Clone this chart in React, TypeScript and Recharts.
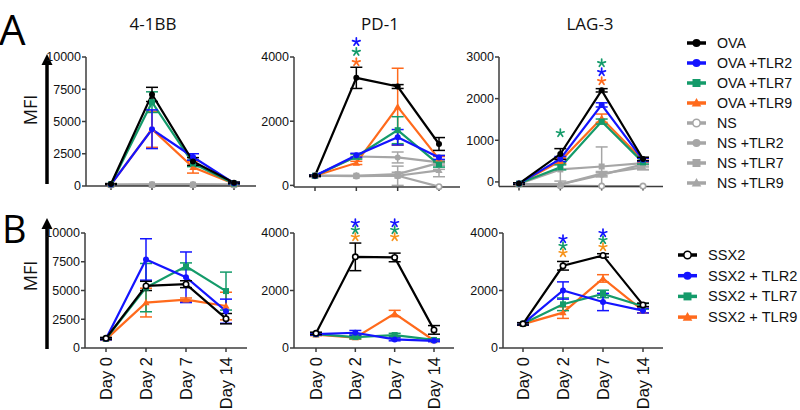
import React from "react";
import { LineChart, Line, XAxis, YAxis, ErrorBar, ReferenceDot } from "recharts";

const BLACK = "#000000";
const BLUE = "#1414FF";
const GREEN = "#149B6A";
const ORANGE = "#FF6A1C";
const ORANGE_B = "#F7941D";
const GREY = "#A6A6A6";
const AXIS = "#3C3C3C";

const days = ["Day 0", "Day 2", "Day 7", "Day 14"];

// ---- Row A series ----
const seriesAKeys = ["OVA", "OVA_TLR2", "OVA_TLR7", "OVA_TLR9", "NS", "NS_TLR2", "NS_TLR7", "NS_TLR9"];
const seriesANames = ["OVA", "OVA +TLR2", "OVA +TLR7", "OVA +TLR9", "NS", "NS +TLR2", "NS +TLR7", "NS +TLR9"];
const seriesAColors = [BLACK, BLUE, GREEN, ORANGE, GREY, GREY, GREY, GREY];
const seriesAMarkers = ["circle", "circle", "square", "triangle", "open", "circle", "square", "triangle"];
const seriesAOrder = [4, 5, 6, 7, 3, 2, 1, 0];

// ---- Row B series ----
const seriesBKeys = ["SSX2", "SSX2_TLR2", "SSX2_TLR7", "SSX2_TLR9"];
const seriesBNames = ["SSX2", "SSX2 + TLR2", "SSX2 + TLR7", "SSX2 + TLR9"];
const seriesBColors = [BLACK, BLUE, GREEN, ORANGE];
const seriesBMarkers = ["open", "circle", "square", "triangle"];
const seriesBOrder = [3, 2, 1, 0];

// ---- Panel A1: 4-1BB ----
const bbOVA = [150, 7100, 1900, 250];
const bbOVAerr = [40, 550, 300, 60];
const bbTLR2 = [120, 4400, 2250, 220];
const bbTLR2err = [30, 1500, 250, 50];
const bbTLR7 = [130, 6500, 1750, 180];
const bbTLR7err = [30, 800, 250, 40];
const bbTLR9 = [120, 4400, 1450, 170];
const bbTLR9err = [30, 1400, 450, 40];
const bbNS = [80, 90, 90, 80];
const bbNSerr = [0, 0, 0, 0];
const bbNS2 = [90, 100, 100, 90];
const bbNS2err = [0, 0, 0, 0];
const bbNS7 = [90, 110, 100, 90];
const bbNS7err = [0, 0, 0, 0];
const bbNS9 = [90, 100, 110, 90];
const bbNS9err = [0, 0, 0, 0];

// ---- Panel A2: PD-1 ----
const pdOVA = [300, 3350, 3080, 1290];
const pdOVAerr = [20, 330, 60, 200];
const pdTLR2 = [300, 940, 1500, 870];
const pdTLR2err = [20, 60, 240, 60];
const pdTLR7 = [300, 900, 1720, 650];
const pdTLR7err = [20, 80, 420, 80];
const pdTLR9 = [300, 700, 2450, 820];
const pdTLR9err = [20, 50, 1200, 80];
const pdNS = [300, 290, 300, -40];
const pdNSerr = [0, 0, 0, 0];
const pdNS2 = [300, 900, 870, 720];
const pdNS2err = [0, 60, 170, 220];
const pdNS7 = [300, 300, 350, 700];
const pdNS7err = [0, 0, 60, 80];
const pdNS9 = [300, 300, 300, 470];
const pdNS9err = [0, 0, 300, 200];

// ---- Panel A3: LAG-3 ----
const lgOVA = [-40, 670, 2200, 550];
const lgOVAerr = [20, 130, 40, 40];
const lgTLR2 = [-40, 550, 1850, 530];
const lgTLR2err = [20, 60, 50, 40];
const lgTLR7 = [-40, 350, 1450, 470];
const lgTLR7err = [20, 60, 60, 40];
const lgTLR9 = [-40, 500, 1530, 520];
const lgTLR9err = [20, 60, 100, 40];
const lgNS = [-60, -90, -100, -100];
const lgNSerr = [0, 0, 0, 0];
const lgNS2 = [-50, -60, 170, 420];
const lgNS2err = [0, 0, 50, 60];
const lgNS7 = [-50, 300, 370, 450];
const lgNS7err = [0, 280, 470, 150];
const lgNS9 = [-50, -60, 200, 350];
const lgNS9err = [0, 0, 50, 60];

// ---- Panel B1: 4-1BB ----
const b1SSX2 = [840, 5400, 5550, 2550];
const b1SSX2err = [80, 400, 300, 450];
const b1TLR2 = [800, 7700, 6150, 3200];
const b1TLR2err = [80, 1800, 2200, 1050];
const b1TLR7 = [800, 5250, 7100, 4950];
const b1TLR7err = [80, 2100, 300, 1650];
const b1TLR9 = [750, 3950, 4200, 3650];
const b1TLR9err = [80, 1250, 150, 1200];

// ---- Panel B2: PD-1 ----
const b2SSX2 = [510, 3170, 3150, 630];
const b2SSX2err = [40, 480, 150, 150];
const b2TLR2 = [480, 530, 300, 250];
const b2TLR2err = [30, 80, 50, 30];
const b2TLR7 = [480, 380, 450, 280];
const b2TLR7err = [30, 60, 60, 40];
const b2TLR9 = [460, 360, 1200, 260];
const b2TLR9err = [30, 50, 110, 30];

// ---- Panel B3: LAG-3 ----
const b3SSX2 = [840, 2860, 3220, 1500];
const b3SSX2err = [40, 150, 60, 60];
const b3TLR2 = [840, 2000, 1600, 1300];
const b3TLR2err = [40, 300, 300, 80];
const b3TLR7 = [840, 1520, 1880, 1450];
const b3TLR7err = [40, 220, 130, 100];
const b3TLR9 = [830, 1230, 2420, 1300];
const b3TLR9err = [40, 200, 130, 80];

// ---- Ticks ----
const ticks10k = [0, 2500, 5000, 7500, 10000];
const ticks4k = [0, 2000, 4000];
const ticks3k = [0, 1000, 2000, 3000];

// ---- Significance stars ----
const pdStarDay = ["Day 2", "Day 2", "Day 2"];
const pdStarY = [4470, 4160, 3840];
const pdStarColor = [BLUE, GREEN, ORANGE];
const lgStarDay = ["Day 7", "Day 7", "Day 7", "Day 2"];
const lgStarY = [2854, 2638, 2422, 1175];
const lgStarColor = [GREEN, BLUE, ORANGE, GREEN];
const b2StarDay = ["Day 2", "Day 2", "Day 2", "Day 7", "Day 7", "Day 7"];
const b2StarY = [4348, 4104, 3861, 4348, 4104, 3861];
const b2StarColor = [BLUE, GREEN, ORANGE_B, BLUE, GREEN, ORANGE_B];
const b3StarDay = ["Day 2", "Day 2", "Day 2", "Day 7", "Day 7", "Day 7"];
const b3StarY = [3791, 3548, 3304, 4000, 3757, 3513];
const b3StarColor = [BLUE, GREEN, ORANGE_B, BLUE, GREEN, ORANGE_B];

const SANS = "'Liberation Sans', Arial, sans-serif";

function buildRows(keys: string[], vals: number[][], errs: number[][]) {
  return days.map((d, i) => {
    const row: any = { day: d };
    keys.forEach((k, j) => {
      row[k] = vals[j][i];
      row[k + "_err"] = errs[j][i];
    });
    return row;
  });
}

function buildStars(ds: string[], ys: number[], cs: string[]) {
  return ds.map((d, i) => ({ day: d, y: ys[i], color: cs[i] }));
}

const rowsA1 = buildRows(
  seriesAKeys,
  [bbOVA, bbTLR2, bbTLR7, bbTLR9, bbNS, bbNS2, bbNS7, bbNS9],
  [bbOVAerr, bbTLR2err, bbTLR7err, bbTLR9err, bbNSerr, bbNS2err, bbNS7err, bbNS9err]
);
const rowsA2 = buildRows(
  seriesAKeys,
  [pdOVA, pdTLR2, pdTLR7, pdTLR9, pdNS, pdNS2, pdNS7, pdNS9],
  [pdOVAerr, pdTLR2err, pdTLR7err, pdTLR9err, pdNSerr, pdNS2err, pdNS7err, pdNS9err]
);
const rowsA3 = buildRows(
  seriesAKeys,
  [lgOVA, lgTLR2, lgTLR7, lgTLR9, lgNS, lgNS2, lgNS7, lgNS9],
  [lgOVAerr, lgTLR2err, lgTLR7err, lgTLR9err, lgNSerr, lgNS2err, lgNS7err, lgNS9err]
);
const rowsB1 = buildRows(seriesBKeys, [b1SSX2, b1TLR2, b1TLR7, b1TLR9], [b1SSX2err, b1TLR2err, b1TLR7err, b1TLR9err]);
const rowsB2 = buildRows(seriesBKeys, [b2SSX2, b2TLR2, b2TLR7, b2TLR9], [b2SSX2err, b2TLR2err, b2TLR7err, b2TLR9err]);
const rowsB3 = buildRows(seriesBKeys, [b3SSX2, b3TLR2, b3TLR7, b3TLR9], [b3SSX2err, b3TLR2err, b3TLR7err, b3TLR9err]);

function Mark({ cx, cy, shape, color, s = 3 }: any) {
  if (cx == null || cy == null || isNaN(cx) || isNaN(cy)) return <g />;
  if (shape === "square") return <rect x={cx - s} y={cy - s} width={2 * s} height={2 * s} fill={color} />;
  if (shape === "triangle")
    return (
      <polygon
        points={`${cx},${cy - s * 1.25} ${cx - s * 1.2},${cy + s * 0.9} ${cx + s * 1.2},${cy + s * 0.9}`}
        fill={color}
      />
    );
  if (shape === "open") return <circle cx={cx} cy={cy} r={s - 0.3} fill="#fff" stroke={color} strokeWidth={1.6} />;
  return <circle cx={cx} cy={cy} r={s} fill={color} />;
}

function Asterisk({ cx, cy, color }: any) {
  if (cx == null || cy == null) return <g />;
  const arms = [-90, -18, 54, 126, 198];
  const L = 4;
  return (
    <g>
      {arms.map((a) => {
        const r = (a * Math.PI) / 180;
        return (
          <line
            key={a}
            x1={cx}
            y1={cy}
            x2={cx + L * Math.cos(r)}
            y2={cy + L * Math.sin(r)}
            stroke={color}
            strokeWidth={1.7}
            strokeLinecap="round"
          />
        );
      })}
    </g>
  );
}

function EmptyTick() {
  return <g />;
}

function RotTick(props: any) {
  const { x, y, payload } = props;
  const ty = y + 3;
  return (
    <text
      x={x}
      y={ty}
      transform={`rotate(-90, ${x}, ${ty})`}
      textAnchor="end"
      dominantBaseline="central"
      fontSize={16.5}
      fill="#111"
      fontFamily={SANS}
    >
      {payload.value}
    </text>
  );
}

type Box = { l: number; r: number; t: number; b: number };

function Panel(p: {
  box: Box;
  pad: [number, number];
  rows: any[];
  keys: string[];
  colors: string[];
  markers: string[];
  order: number[];
  domain: [number, number];
  ticks: number[];
  labels: boolean;
  stars: { day: string; y: number; color: string }[];
}) {
  const yW = 60;
  const mTop = 30;
  const mRight = 6;
  const xH = p.labels ? 62 : 10;
  const w = yW + p.box.r - p.box.l + mRight;
  const h = mTop + p.box.b - p.box.t + xH;
  const axisStyle = { stroke: AXIS, strokeWidth: 1.5 };
  return (
    <div style={{ position: "absolute", left: p.box.l - yW, top: p.box.t - mTop }}>
      <LineChart
        width={w}
        height={h}
        data={p.rows}
        margin={{ top: mTop, right: mRight, left: 0, bottom: 0 }}
        style={{ fontFamily: SANS }}
      >
        <XAxis
          dataKey="day"
          type="category"
          padding={{ left: p.pad[0], right: p.pad[1] }}
          height={xH}
          interval={0}
          tickSize={4}
          axisLine={axisStyle}
          tickLine={axisStyle}
          tick={p.labels ? <RotTick /> : <EmptyTick />}
        />
        <YAxis
          type="number"
          domain={p.domain}
          ticks={p.ticks}
          interval={0}
          width={yW}
          tickSize={4}
          tickMargin={1}
          axisLine={axisStyle}
          tickLine={axisStyle}
          tick={{ fontSize: 12.5, fill: "#111", fontFamily: SANS }}
        />
        {p.order.map((i) => {
          const k = p.keys[i];
          const c = p.colors[i];
          const m = p.markers[i];
          return (
            <Line
              key={k}
              dataKey={k}
              type="linear"
              stroke={c}
              strokeWidth={2.2}
              isAnimationActive={false}
              activeDot={false}
              dot={(d: any) => <Mark key={`${k}-${d.index}`} cx={d.cx} cy={d.cy} shape={m} color={c} />}
            >
              <ErrorBar dataKey={`${k}_err`} width={6} stroke={c} strokeWidth={1.5} direction="y" />
            </Line>
          );
        })}
        {p.stars.map((s, j) => (
          <ReferenceDot
            key={`star-${j}`}
            x={s.day}
            y={s.y}
            ifOverflow="visible"
            shape={(q: any) => <Asterisk cx={q.cx} cy={q.cy} color={s.color} />}
          />
        ))}
      </LineChart>
    </div>
  );
}

function LegendBlock({ names, colors, markers, x, y0, step, fontSize, tx }: any) {
  return (
    <g>
      {names.map((n: string, i: number) => {
        const y = y0 + i * step;
        return (
          <g key={n}>
            <line x1={x} x2={x + 19} y1={y} y2={y} stroke={colors[i]} strokeWidth={3.5} />
            <Mark cx={x + 9.5} cy={y} shape={markers[i]} color={colors[i]} s={4} />
            <text x={x + tx} y={y} dominantBaseline="central" fontSize={fontSize} fill="#111" fontFamily={SANS}>
              {n}
            </text>
          </g>
        );
      })}
    </g>
  );
}

function Arrow({ x, tip, bottom }: { x: number; tip: number; bottom: number }) {
  return (
    <g>
      <line x1={x} x2={x} y1={tip + 8} y2={bottom} stroke="#000" strokeWidth={3.5} />
      <polygon points={`${x},${tip} ${x - 5.5},${tip + 11} ${x + 5.5},${tip + 11}`} fill="#000" />
    </g>
  );
}

export default function App() {
  const font = "'Open Sans', 'Liberation Sans', Arial, sans-serif";
  const starsA2 = buildStars(pdStarDay, pdStarY, pdStarColor);
  const starsA3 = buildStars(lgStarDay, lgStarY, lgStarColor);
  const starsB2 = buildStars(b2StarDay, b2StarY, b2StarColor);
  const starsB3 = buildStars(b3StarDay, b3StarY, b3StarColor);
  return (
    <div style={{ position: "absolute", left: 0, top: 0, width: 800, height: 410, background: "#fff", overflow: "hidden" }}>
      <svg width={800} height={410} style={{ position: "absolute", left: 0, top: 0 }}>
        <text x={-1} y={45} fontSize={42} fontFamily={font} fill="#000">A</text>
        <text x={2} y={243} fontSize={38} fontFamily={font} fill="#000">B</text>
        <text x={153} y={30} fontSize={17} fontFamily={font} textAnchor="middle" fill="#111">4-1BB</text>
        <text x={380} y={30} fontSize={17} fontFamily={font} textAnchor="middle" fill="#111">PD-1</text>
        <text x={590} y={30} fontSize={17} fontFamily={font} textAnchor="middle" fill="#111">LAG-3</text>
        <text x={30} y={110} fontSize={18} fontFamily={font} textAnchor="middle" dominantBaseline="central" transform="rotate(-90, 30, 110)" fill="#111">MFI</text>
        <text x={30} y={276} fontSize={18} fontFamily={font} textAnchor="middle" dominantBaseline="central" transform="rotate(-90, 30, 276)" fill="#111">MFI</text>
        <Arrow x={47} tip={54} bottom={184} />
        <Arrow x={47} tip={218} bottom={349} />
        <LegendBlock names={seriesANames} colors={seriesAColors} markers={seriesAMarkers} x={687} y0={43} step={20} fontSize={14.2} tx={30} />
        <LegendBlock names={seriesBNames} colors={seriesBColors} markers={seriesBMarkers} x={678} y0={255} step={20.7} fontSize={14.6} tx={30} />
      </svg>
      <Panel box={{ l: 86, r: 256, t: 57, b: 186 }} pad={[25, 22]} rows={rowsA1} keys={seriesAKeys} colors={seriesAColors} markers={seriesAMarkers} order={seriesAOrder} domain={[0, 10000]} ticks={ticks10k} labels={false} stars={[]} />
      <Panel box={{ l: 294, r: 460, t: 57, b: 187 }} pad={[21, 21]} rows={rowsA2} keys={seriesAKeys} colors={seriesAColors} markers={seriesAMarkers} order={seriesAOrder} domain={[-50, 4000]} ticks={ticks4k} labels={false} stars={starsA2} />
      <Panel box={{ l: 499, r: 663, t: 57, b: 186.5 }} pad={[20, 20]} rows={rowsA3} keys={seriesAKeys} colors={seriesAColors} markers={seriesAMarkers} order={seriesAOrder} domain={[-110, 3000]} ticks={ticks3k} labels={false} stars={starsA3} />
      <Panel box={{ l: 85, r: 247, t: 233, b: 348 }} pad={[21, 21]} rows={rowsB1} keys={seriesBKeys} colors={seriesBColors} markers={seriesBMarkers} order={seriesBOrder} domain={[0, 10000]} ticks={ticks10k} labels={true} stars={[]} />
      <Panel box={{ l: 294, r: 454, t: 233, b: 348 }} pad={[22, 20]} rows={rowsB2} keys={seriesBKeys} colors={seriesBColors} markers={seriesBMarkers} order={seriesBOrder} domain={[0, 4000]} ticks={ticks4k} labels={true} stars={starsB2} />
      <Panel box={{ l: 503, r: 663, t: 233, b: 348 }} pad={[20, 20]} rows={rowsB3} keys={seriesBKeys} colors={seriesBColors} markers={seriesBMarkers} order={seriesBOrder} domain={[0, 4000]} ticks={ticks4k} labels={true} stars={starsB3} />
    </div>
  );
}
